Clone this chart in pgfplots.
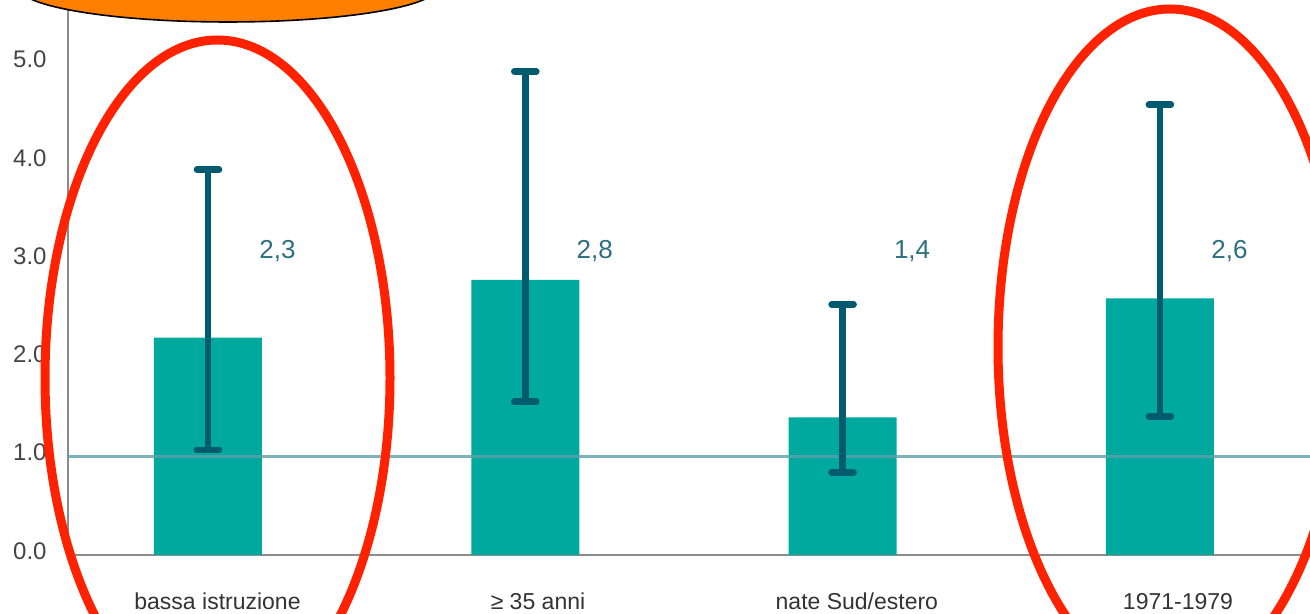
\documentclass[border=0pt]{standalone}
\usepackage{fontspec}
\setmainfont{Liberation Sans}
\usepackage{pgfplots}
\pgfplotsset{compat=1.18}
\definecolor{barc}{HTML}{00A99D}
\definecolor{errc}{HTML}{005B6F}
\definecolor{labc}{HTML}{2B6F80}
\definecolor{refc}{HTML}{5E9FA8}
\definecolor{axc}{HTML}{8C8C8C}
\definecolor{tickc}{HTML}{444444}
\definecolor{catc}{HTML}{333333}
\definecolor{redc}{HTML}{FF2200}
\definecolor{orc}{HTML}{FF7F00}

\begin{document}
\begin{tikzpicture}
\useasboundingbox (-34pt,-29.5pt) rectangle (621pt,277.5pt);
\clip (-34pt,-29.5pt) rectangle (621pt,277.5pt);
\begin{axis}[
  at={(0pt,0pt)}, anchor=south west,
  scale only axis, width=621pt, height=277.5pt,
  xmin=-0.4412, xmax=3.4731, ymin=0, ymax=5.646,
  axis lines*=left,
  axis line style={draw=axc, line width=1pt},
  major tick length=0pt,
  tick style={draw=none},
  xtick={0.03,1.04,2.045,3.057},
  xticklabels={bassa istruzione, ≥ 35 anni, nate Sud/estero, 1971-1979},
  xticklabel style={anchor=base, inner sep=0pt, yshift=-27.5pt,
    font=\fontsize{11.5}{13}\selectfont, text=catc},
  ytick={0,1,2,3,4,5},
  yticklabels={0.0,1.0,2.0,3.0,4.0,5.0},
  yticklabel style={anchor=east, inner sep=0pt, xshift=-10.5pt, yshift=2pt,
    font=\fontsize{12}{14}\selectfont, text=tickc},
  clip=false,
]
% bars
\addplot[ybar, bar width=54pt, fill=barc, draw=none] coordinates {
  (0,2.21) (1,2.80) (2,1.40) (3,2.61)
};
% reference line at 1.0
\addplot[refc, line width=1.6pt, opacity=0.8] coordinates {(-0.4412,1) (3.4731,1)};
% error bars
\addplot[draw=none, mark=none,
  error bars/.cd, y dir=both, y explicit,
  error bar style={draw=errc, line width=3.3pt},
  error mark=|,
  error mark options={draw=errc, mark size=5.5pt, line width=3.3pt, line cap=round}]
  coordinates {
  (0,2.21) += (0,1.71) -= (0,1.14)
  (1,2.80) += (0,2.12) -= (0,1.24)
  (2,1.40) += (0,1.15) -= (0,0.56)
  (3,2.61) += (0,1.97) -= (0,1.20)
};
% value labels
\addplot[only marks, mark=none, nodes near coords, point meta=explicit symbolic,
  every node near coord/.append style={anchor=center, inner sep=0pt,
    font=\fontsize{13}{15}\selectfont, text=labc}]
  table[meta=lab] {
  x y lab
  0.219 3.09 2,3
  1.219 3.09 2,8
  2.219 3.09 1,4
  3.219 3.09 2,6
};
\end{axis}
% annotations
\draw[redc, line width=4.5pt] (74.75pt,88.5pt) ellipse [x radius=86.25pt, y radius=169pt];
\draw[redc, line width=4.5pt] (551pt,104pt) ellipse [x radius=86pt, y radius=169pt];
\draw[black, line width=0.8pt, fill=orc] (80pt,284pt) ellipse [x radius=105pt, y radius=17.5pt];
\end{tikzpicture}
\end{document}
